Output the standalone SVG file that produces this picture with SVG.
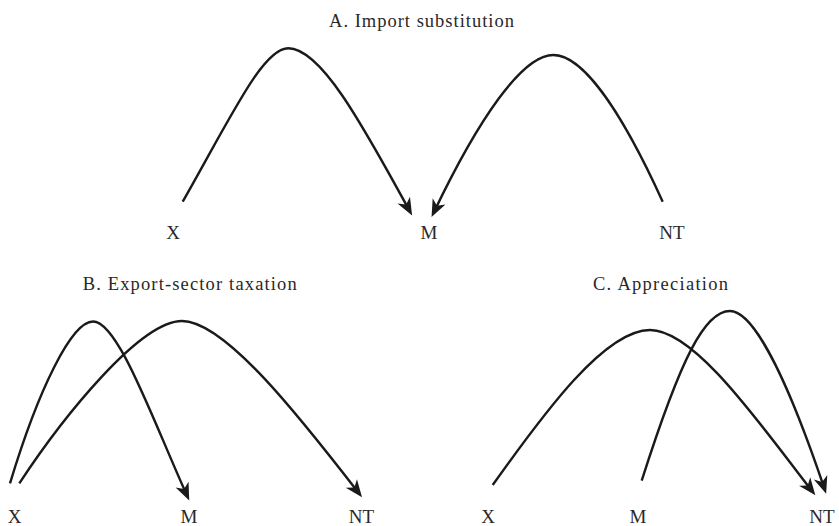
<svg xmlns="http://www.w3.org/2000/svg" width="839" height="526" viewBox="0 0 839 526">
  <style>
    .title { font-family: "Liberation Serif", "DejaVu Serif", serif; font-size: 18.5px; fill: #2b2728; text-anchor: middle; }
    .lbl { font-family: "Liberation Serif", "DejaVu Serif", serif; font-size: 19px; fill: #2b2728; text-anchor: middle; }
    .edge { fill: none; stroke: #1a1a1a; stroke-width: 2.4; stroke-linecap: butt; marker-end: url(#arrow); }
  </style>
  <defs>
    <marker id="arrow" markerUnits="userSpaceOnUse" markerWidth="24" markerHeight="24" viewBox="-13 -9 22 18" refX="0" refY="0" orient="auto" overflow="visible">
      <path d="M5,0 L-11,-6.5 L-6.5,0 L-11,6.5 Z" fill="#1a1a1a"/>
    </marker>
  </defs>
  <rect width="839" height="526" fill="#ffffff"/>

  <g id="titles">
    <text class="title" x="421.5" y="27" textLength="185" lengthAdjust="spacing">A. Import substitution</text>
    <text class="title" x="189.7" y="290" textLength="214" lengthAdjust="spacing">B. Export-sector taxation</text>
    <text class="title" x="660.5" y="290" textLength="135" lengthAdjust="spacing">C. Appreciation</text>
  </g>

  <g id="A-X"><text class="lbl" x="173" y="239">X</text></g>
  <g id="A-M"><text class="lbl" x="429" y="239">M</text></g>
  <g id="A-NT"><text class="lbl" x="672" y="239">NT</text></g>

  <g id="B-X"><text class="lbl" x="14.5" y="523">X</text></g>
  <g id="B-M"><text class="lbl" x="189" y="523">M</text></g>
  <g id="B-NT"><text class="lbl" x="361.5" y="523">NT</text></g>

  <g id="C-X"><text class="lbl" x="488" y="523">X</text></g>
  <g id="C-M"><text class="lbl" x="638" y="523">M</text></g>
  <g id="C-NT"><text class="lbl" x="822" y="523">NT</text></g>

  <g id="connectors">
    <path class="edge" d="M182.7,201.7 C232,115 263,48.3 288.3,48.3 C320,48.3 360,120 409.5,210.7"/>
    <path class="edge" d="M662.7,201.7 C625,119 585,55 553.3,55 C522,55 478,120 433.9,212.2"/>
    <path class="edge" d="M10,483.3 C39,387.4 72,321.5 93,321.5 C118,321.5 152,418 187,495.5"/>
    <path class="edge" d="M19.3,483.3 C63.3,416.5 140,321 182,321 C225,321 300.7,418 358.7,493"/>
    <path class="edge" d="M492.7,485 C544.9,411.7 605,330 650,330 C695,330 760,424 812,491"/>
    <path class="edge" d="M641.7,480.7 C681.2,356.8 705,311 730,311 C757,311 794,398.7 824.4,488.6"/>
  </g>
</svg>
